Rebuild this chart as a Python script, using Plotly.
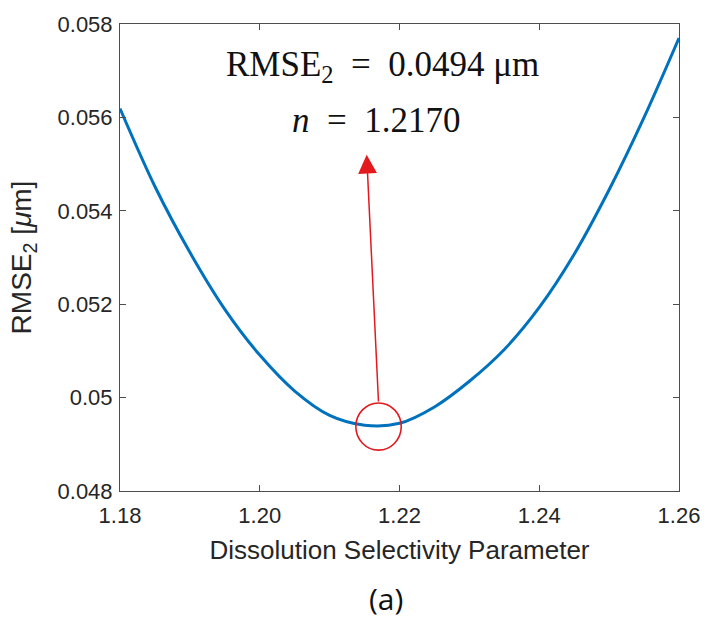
import plotly.graph_objects as go

# Data
n_values = [1.180, 1.185, 1.190, 1.195, 1.200, 1.205, 1.210, 1.215,
            1.220, 1.225, 1.230, 1.235, 1.240, 1.245, 1.250, 1.255, 1.260]
rmse_values = [0.05619, 0.05452, 0.05311, 0.05189, 0.05091, 0.05014, 0.04962,
               0.04941, 0.04945, 0.04980, 0.05035, 0.05103, 0.05193, 0.05307,
               0.05445, 0.05600, 0.05770]
n_opt = 1.2170
rmse_opt = 0.0494
x_ticks = [1.18, 1.20, 1.22, 1.24, 1.26]
x_tick_labels = ["1.18", "1.20", "1.22", "1.24", "1.26"]
y_ticks = [0.048, 0.050, 0.052, 0.054, 0.056, 0.058]
y_tick_labels = ["0.048", "0.05", "0.052", "0.054", "0.056", "0.058"]

fig = go.Figure()
fig.add_trace(go.Scatter(
    x=n_values, y=rmse_values, mode="lines",
    line=dict(color="#0072BD", width=3, shape="spline", smoothing=0.9),
    showlegend=False, hoverinfo="skip"))

axis_common = dict(
    showgrid=False, zeroline=False, showline=True, linecolor="#4d4d4d",
    linewidth=1, mirror="ticks", ticks="inside", ticklen=6, tickcolor="#4d4d4d",
    tickfont=dict(family="Liberation Sans, Arial", size=22, color="#262626"),
)
fig.update_xaxes(range=[1.18, 1.26], tickvals=x_ticks, ticktext=x_tick_labels,
                 ticklabelstandoff=5,
                 title=dict(text="Dissolution Selectivity Parameter",
                            font=dict(family="Liberation Sans, Arial", size=26, color="#262626"),
                            standoff=13),
                 **axis_common)
fig.update_yaxes(range=[0.048, 0.058], tickvals=y_ticks, ticktext=y_tick_labels,
                 ticklabelstandoff=2,
                 title=dict(text="RMSE<sub>2</sub> [<i>μ</i>m]",
                            font=dict(family="Liberation Sans, Arial", size=28, color="#262626"),
                            standoff=17),
                 **axis_common)

red = "#e3191e"
# circle around minimum
rx = 0.00325
ry = 0.000505
cy = rmse_opt - 0.00002
fig.add_shape(type="circle", xref="x", yref="y",
              x0=n_opt - rx, x1=n_opt + rx, y0=cy - ry, y1=cy + ry,
              line=dict(color=red, width=1.6))
# arrow from circle top to below the label
fig.add_annotation(x=1.2153, y=0.05520, ax=n_opt, ay=cy + ry,
                   xref="x", yref="y", axref="x", ayref="y",
                   showarrow=True, arrowhead=2, arrowsize=2.5, arrowwidth=1.5,
                   arrowcolor=red, text="")


def px_x(p):
    return (p - 120) / 567


def px_y(p):
    return (490.7 - p) / 474.7


fig.add_annotation(x=px_x(386), y=px_y(59), xref="paper", yref="paper",
                   xanchor="center", yanchor="middle",
                   text="RMSE<sub>2</sub>\u2002=\u20020.0494 μm", showarrow=False,
                   font=dict(family="Liberation Serif, Times New Roman", size=35, color="#111111"))
fig.add_annotation(x=px_x(380), y=px_y(114), xref="paper", yref="paper",
                   xanchor="center", yanchor="middle",
                   text="<i>n</i>\u2002=\u20021.2170", showarrow=False,
                   font=dict(family="Liberation Serif, Times New Roman", size=35, color="#111111"))
fig.add_annotation(x=px_x(390), y=px_y(600), xref="paper", yref="paper",
                   xanchor="center", yanchor="middle",
                   text="(a)", showarrow=False,
                   font=dict(family="Open Sans, Liberation Sans", size=30, color="#111111"))

fig.update_layout(width=712, height=625, margin=dict(l=120, r=25, t=16, b=134),
                  paper_bgcolor="white", plot_bgcolor="white")
fig.write_html("out.html")
